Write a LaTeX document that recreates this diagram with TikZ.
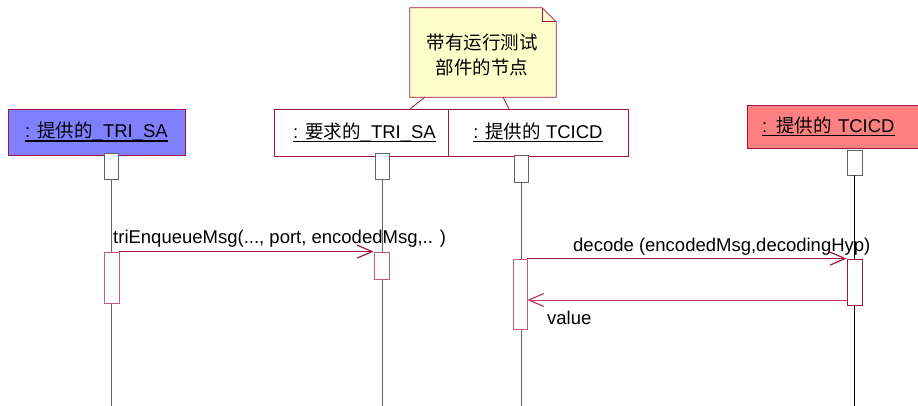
\documentclass[tikz,border=0pt]{standalone}
\usepackage{fontspec}
\setmainfont{Liberation Sans}
\newfontfamily\cjk{Noto Sans CJK SC}
\usetikzlibrary{arrows.meta,calc}
\definecolor{bord}{RGB}{160,20,70}
\definecolor{actc}{RGB}{200,90,120}
\definecolor{retc}{RGB}{190,60,100}
\definecolor{bluefill}{RGB}{128,128,255}
\definecolor{redfill}{RGB}{255,128,128}
\definecolor{notefill}{RGB}{255,255,204}
\definecolor{lifec}{RGB}{100,100,100}
\newcommand\myul[1]{\vtop{\hbox{\raisebox{0pt}[\height][0pt]{#1}}\kern2.5pt\hrule height 1.6pt}}
\tikzset{
  txt/.style={font=\fontsize{18.5}{22}\selectfont},
  part/.style={draw=bord, line width=0.8pt, inner sep=0pt, txt},
  headbox/.style={draw=lifec, fill=white, line width=0.8pt, minimum width=14pt, inner sep=0pt},
  actbox/.style={draw=actc, fill=white, line width=0.8pt, minimum width=15pt, inner sep=0pt},
  msg/.style={draw=bord, line width=0.9pt, -{Straight Barb[length=15pt,width=13pt,line width=1.2pt]}},
  retmsg/.style={draw=retc, line width=0.9pt, -{Straight Barb[length=15pt,width=13pt,line width=1.2pt]}},
  life/.style={draw=lifec, line width=0.8pt},
  lbl/.style={txt, inner sep=0pt}
}
\begin{document}
\begin{tikzpicture}[x=1pt,y=-1pt]
\useasboundingbox (0,0) rectangle (918,405);
% participants
\node[part, fill=bluefill, minimum width=177pt, minimum height=46pt] (p1) at (96.5,132) {\myul{: {\cjk 提供的}\_TRI\_SA}};
\node[part, fill=white, minimum width=181pt, minimum height=47pt] (p2) at (364.5,132.5) {\myul{: {\cjk 要求的}\_TRI\_SA}};
\node[part, fill=white, minimum width=180pt, minimum height=47pt] (p3) at (538,132.5) {\myul{: {\cjk 提供的} TCICD}};
\node[part, fill=redfill, minimum width=180pt, minimum height=43pt, inner xsep=15pt, text width=150pt, align=left] (p4) at (837,126.5) {\myul{: {\cjk 提供的} TCICD}};
% note
\node[inner sep=0pt, minimum width=146pt, minimum height=89pt] (note) at (483,52.5) {};
\fill[notefill] (note.south west) -- (note.north west) -- ($(note.north east)+(-14,0)$) -- ($(note.north east)+(0,14)$) -- (note.south east) -- cycle;
\draw[bord, line width=0.8pt] (note.south west) -- (note.north west) -- ($(note.north east)+(-14,0)$) -- ($(note.north east)+(0,14)$) -- (note.south east) -- cycle;
\draw[bord, line width=0.8pt] ($(note.north east)+(-14,0)$) -- ($(note.north east)+(-14,14)$) -- ($(note.north east)+(0,14)$);
\node[align=center, inner sep=0pt, font=\cjk\fontsize{18.5}{25}\selectfont] (notetext) at (482,54.5) {带有运行测试\\部件的节点};
\coordinate (n1) at (425,97);
\coordinate (n2) at (503,97);
\coordinate (t1) at (410,109);
\coordinate (t2) at (509,109);
\draw[bord, line width=0.8pt] (n1) -- (t1);
\draw[bord, line width=0.8pt] (n2) -- (t2);
% heads
\node[headbox, minimum height=26pt] (h1) at (111,166) {};
\node[headbox, minimum height=26pt] (h2) at (382,166) {};
\node[headbox, minimum height=27pt] (h3) at (521,168.5) {};
\node[headbox, minimum width=15pt, minimum height=25pt] (h4) at (854.5,162.5) {};
% lifelines
\coordinate (e1) at (111,406);
\coordinate (e2) at (382,406);
\coordinate (e3) at (521,406);
\coordinate (e4) at (854.5,406);
\draw[life] (h1.south) -- (e1);
\draw[life] (h2.south) -- (e2);
\draw[life] (h3.south) -- (e3);
\draw[life, draw=black] (h4.south) -- (e4);
% activations
\node[actbox, minimum height=51pt] (a1) at (111.5,277.5) {};
\node[actbox, minimum height=27pt] (a2) at (381.5,265.5) {};
\node[actbox, minimum width=14pt, minimum height=70pt] (a3) at (520,294) {};
\node[actbox, draw=bord, minimum height=46pt] (a4) at (854.5,282) {};
% messages
\draw[msg] (a1.north east) -- (a2.north west);
\draw[msg] (a3.north east) -- (a4.north west);
\coordinate (r) at (0,300);
\draw[retmsg] (a4.west |- r) -- (a3.east |- r);
% labels
\node[lbl, anchor=base west] (l1) at (113,243) {triEnqueueMsg(..., port, encodedMsg,.. )};
\node[lbl, anchor=base west] (l2) at (573,251) {decode (encodedMsg,decodingHyp)};
\node[lbl, anchor=base west] (l3) at (547,324) {value};
\end{tikzpicture}
\end{document}
